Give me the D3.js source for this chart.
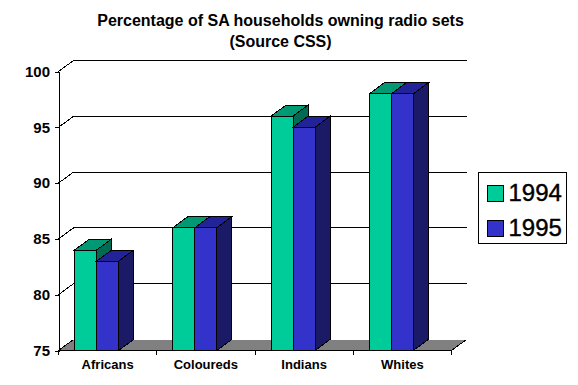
<!DOCTYPE html>
<html><head><meta charset="utf-8">
<script src="https://cdn.jsdelivr.net/npm/d3@7/dist/d3.min.js"></script>
<style>html,body{margin:0;padding:0;background:#fff}svg{display:block}text{font-family:"Liberation Sans",Arial,sans-serif;fill:#000}path,line,rect{shape-rendering:crispEdges}</style>
</head><body><svg id="c" width="578" height="385"></svg>
<script>
const categories = ["Africans","Coloureds","Indians","Whites"];
const seriesNames = ["1994","1995"];
const values1994 = [84,86,96,98];
const values1995 = [83,86,95,98];
const yTicks = [75,80,85,90,95,100];
const titleLines = ["Percentage of SA households owning radio sets","(Source CSS)"];
const colors = [{front:"#00CC99",top:"#009973",side:"#006B52"},{front:"#3333CC",top:"#222299",side:"#1A1A66"}];

const svg = d3.select("#c");
const DX = 15, DY = 11, BW = 22;
const y = d3.scaleLinear().domain([75,100]).range([350.5,71.5]);
const x = d3.scaleBand().domain(categories).range([58.5,451.5]);
const bx = c => x(c) + 16;
const poly = (pts,fill,stroke) => svg.append("path").attr("d","M"+pts.map(p=>p.join(",")).join("L")+"Z")
  .attr("fill",fill).attr("stroke",stroke||"none").attr("stroke-width",1);

const x0 = x.range()[0], x1 = x.range()[1], y0 = y(75);
poly([[x0,y0],[x0+DX,y0-DY],[x1+DX,y0-DY],[x1,y0]],"#808080","none");

yTicks.forEach(t=>{
  if(t===75) return;
  svg.append("path").attr("d",`M${x0},${y(t)}L${x0+DX},${y(t)-DY}H${x1+DX}`).attr("fill","none").attr("stroke","#000");
});
svg.append("path").attr("d",`M${x0},${y0}L${x0+DX},${y0-DY}`).attr("fill","none").attr("stroke","#000");
svg.append("path").attr("d",`M${x1},${y0}L${x1+DX},${y0-DY}`).attr("fill","none").attr("stroke","#000");

categories.forEach((c,i)=>{
  [values1994[i],values1995[i]].forEach((v,s)=>{
    const l = bx(c)+s*BW, r = l+BW, t = y(v), col = colors[s];
    poly([[r,t],[r+DX,t-DY],[r+DX,y0-DY],[r,y0]],col.side,"#000");
    poly([[l,t],[l+DX,t-DY],[r+DX,t-DY],[r,t]],col.top,"#000");
    svg.append("rect").attr("x",l).attr("y",t).attr("width",BW).attr("height",y0-t)
      .attr("fill",col.front).attr("stroke","#000");
  });
});

const ya = svg.append("g").attr("transform",`translate(${x0},0)`)
  .call(d3.axisLeft(y).tickValues(yTicks).tickSize(4).tickPadding(4.5));
ya.selectAll("text").attr("font-size",15).attr("font-weight","bold").style("font-family",'"Liberation Sans"');
ya.select(".domain").attr("stroke","#000");
svg.append("path").attr("d",`M${x0},${y0}H${x1}`).attr("stroke","#000");
const edges = categories.map(c=>x(c)).concat([x1]);
svg.selectAll("line.xt").data(edges).join("line").attr("class","xt")
  .attr("x1",d=>d).attr("x2",d=>d).attr("y1",y0).attr("y2",y0+4).attr("stroke","#000");
svg.selectAll("text.cat").data(categories).join("text").attr("class","cat")
  .attr("x",c=>x(c)+x.bandwidth()/2).attr("y",369).attr("text-anchor","middle")
  .attr("font-size",13).attr("font-weight","bold").text(c=>c);

svg.selectAll("text.title").data(titleLines).join("text").attr("class","title")
  .attr("x",280.5).attr("y",(d,i)=>26+i*21).attr("text-anchor","middle")
  .attr("font-size",16).attr("font-weight","bold").text(d=>d);

svg.append("rect").attr("x",478.5).attr("y",172.5).attr("width",88).attr("height",70.5).attr("fill","#fff").attr("stroke","#000");
seriesNames.forEach((n,i)=>{
  svg.append("rect").attr("x",487.5).attr("y",185.5+i*35).attr("width",16).attr("height",16).attr("fill",colors[i].front).attr("stroke","#000");
  svg.append("text").attr("x",508.5).attr("y",201+i*35).attr("font-size",24).attr("stroke","#000").attr("stroke-width",0.4).text(n);
});
</script></body></html>
